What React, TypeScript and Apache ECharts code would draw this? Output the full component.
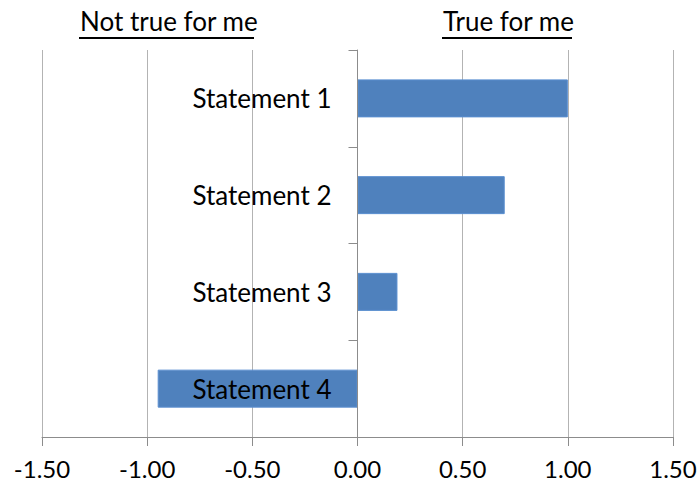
import React, { useEffect, useRef } from "react";
import * as echarts from "echarts";

const categories = ["Statement 1", "Statement 2", "Statement 3", "Statement 4"];
const values = [1.0, 0.7, 0.19, -0.95];
const xMin = -1.5;
const xMax = 1.5;
const xInterval = 0.5;
const leftHeader = "Not true for me";
const rightHeader = "True for me";

const FONT = "Lato";
const GRID_LEFT = 42;
const GRID_RIGHT = 26;
const WIDTH = 699;

export default function App() {
  const ref = useRef<HTMLDivElement>(null);
  useEffect(() => {
    if (!ref.current) return;
    const chart = echarts.init(ref.current, undefined, { renderer: "svg" });
    const plotW = WIDTH - GRID_LEFT - GRID_RIGHT;
    const zeroOffset = -plotW * ((0 - xMin) / (xMax - xMin));
    chart.setOption({
      animation: false,
      backgroundColor: "#ffffff",
      grid: {
        left: GRID_LEFT,
        right: GRID_RIGHT,
        top: 50,
        bottom: 46,
        containLabel: false,
        outerBoundsMode: "none",
      },
      xAxis: {
        type: "value",
        min: xMin,
        max: xMax,
        interval: xInterval,
        axisLine: { show: true, lineStyle: { color: "#8c8c8c", width: 1 } },
        axisTick: { show: true, length: 9, lineStyle: { color: "#8c8c8c" } },
        splitLine: { show: true, lineStyle: { color: "#b3b3b3", width: 1 } },
        axisLabel: {
          formatter: (v: number) => v.toFixed(2),
          fontFamily: FONT,
          fontSize: 24,
          lineHeight: 24,
          color: "#000",
          margin: 19,
        },
      },
      yAxis: {
        type: "category",
        data: categories,
        inverse: true,
        z: 5,
        offset: zeroOffset,
        axisLine: { show: true, onZero: false, lineStyle: { color: "#8c8c8c", width: 1 } },
        axisTick: { show: true, length: 9, lineStyle: { color: "#8c8c8c" } },
        splitLine: { show: false },
        axisLabel: { fontFamily: FONT, fontSize: 26, color: "#000", margin: 26 },
      },
      series: [
        {
          type: "bar",
          data: values,
          barWidth: 38,
          itemStyle: { color: "#4f81bd", borderColor: "#5b8fd0", borderWidth: 1 },
        },
      ],
      graphic: [
        {
          type: "text",
          left: 80,
          top: 8,
          style: { text: leftHeader, font: `26px ${FONT}`, fill: "#000" },
        },
        {
          type: "line",
          shape: { x1: 79, y1: 38, x2: 254, y2: 38 },
          style: { stroke: "#000", lineWidth: 2 },
        },
        {
          type: "text",
          left: 443,
          top: 8,
          style: { text: rightHeader, font: `26px ${FONT}`, fill: "#000" },
        },
        {
          type: "line",
          shape: { x1: 442, y1: 38, x2: 572, y2: 38 },
          style: { stroke: "#000", lineWidth: 2 },
        },
      ],
    });
    return () => chart.dispose();
  }, []);
  return <div ref={ref} style={{ width: 699, height: 483, position: "absolute", left: 0, top: 0 }} />;
}
